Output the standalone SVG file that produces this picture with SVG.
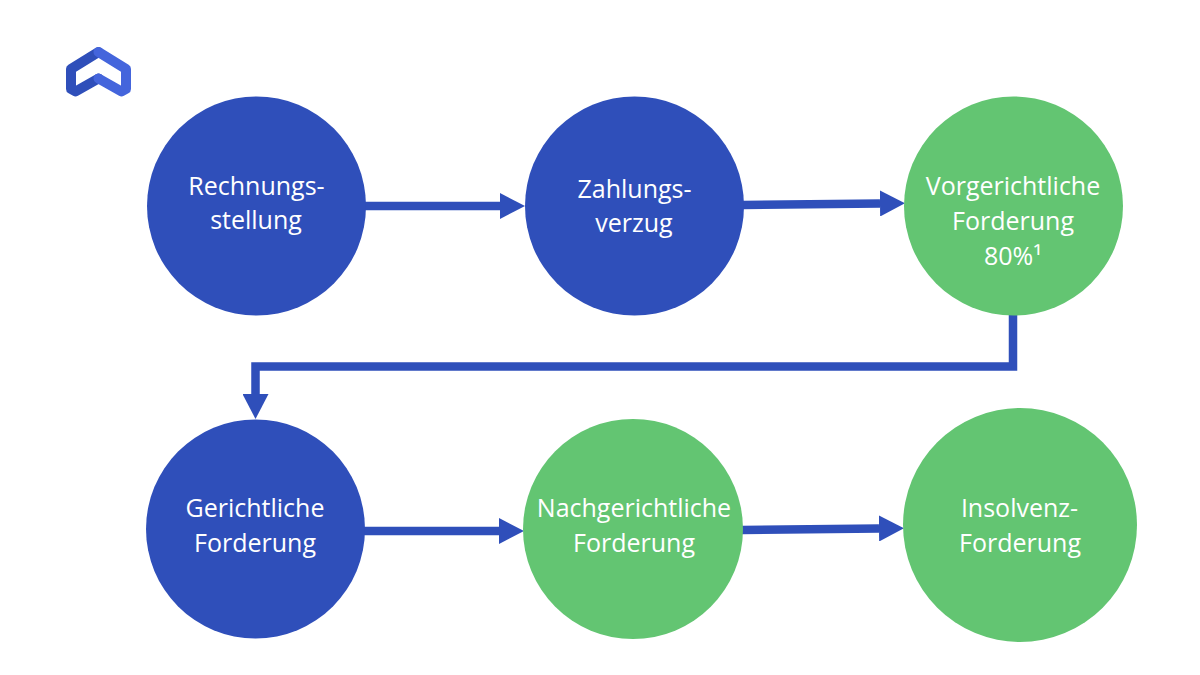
<svg xmlns="http://www.w3.org/2000/svg" width="1200" height="675" viewBox="0 0 1200 675">
<style>
.blue{fill:#2f4fba}.green{fill:#63c572}
.lbl{fill:#fff;font-family:"Open Sans","Noto Sans",sans-serif;font-size:25px;text-anchor:middle}
.conn{fill:none;stroke:#2f4fba;stroke-width:8.5;marker-end:url(#arrow)}
</style>
<defs>
<marker id="arrow" markerUnits="userSpaceOnUse" markerWidth="26" markerHeight="26" refX="0" refY="13" orient="auto"><path d="M0 0L25 13L0 26Z" fill="#2f4fba"/></marker>
</defs>
<rect width="1200" height="675" fill="#fff"/>
<g id="logo" fill="none" stroke-width="10" stroke-linejoin="round" stroke-linecap="round">
<path d="M98.500 52L71 69V89L75.500 91.500L98.500 78.500" stroke="#2f4fba"/>
<path d="M98.500 52L126 69V89L121.500 91.500L98.500 78.500" stroke="#4465dc"/>
</g>
<g id="connectors">
<path class="conn" d="M365 206H500"/>
<path class="conn" d="M743 205L880 203.500"/>
<path class="conn" d="M1013 314V366.500H255.500V394"/>
<path class="conn" d="M364 531H499"/>
<path class="conn" d="M742 530L879 528.500"/>
</g>
<g id="n1"><circle class="blue" cx="256.500" cy="206" r="109.500"/><text class="lbl"><tspan x="256.500" y="195">Rechnungs-</tspan><tspan x="256" y="229">stellung</tspan></text></g>
<g id="n2"><circle class="blue" cx="634.500" cy="206" r="109.500"/><text class="lbl"><tspan x="634.500" y="198">Zahlungs-</tspan><tspan x="634" y="232">verzug</tspan></text></g>
<g id="n3"><circle class="green" cx="1013.500" cy="206" r="109.500"/><text class="lbl"><tspan x="1013" y="195">Vorgerichtliche</tspan><tspan x="1013" y="230">Forderung</tspan><tspan x="1013" y="265">80%¹</tspan></text></g>
<g id="n4"><circle class="blue" cx="255.500" cy="529" r="109.500"/><text class="lbl"><tspan x="255" y="517">Gerichtliche</tspan><tspan x="255" y="552">Forderung</tspan></text></g>
<g id="n5"><circle class="green" cx="633" cy="529" r="110"/><text class="lbl"><tspan x="634" y="517">Nachgerichtliche</tspan><tspan x="634" y="552">Forderung</tspan></text></g>
<g id="n6"><circle class="green" cx="1020" cy="525" r="117"/><text class="lbl"><tspan x="1019.500" y="517">Insolvenz-</tspan><tspan x="1020" y="552">Forderung</tspan></text></g>
</svg>
